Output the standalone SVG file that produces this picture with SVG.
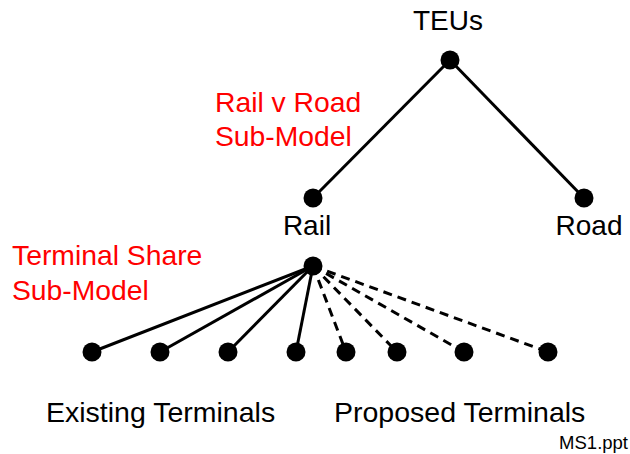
<svg xmlns="http://www.w3.org/2000/svg" width="630" height="454" viewBox="0 0 630 454">
  <style>
    text { font-family: "Liberation Sans", Arial, sans-serif; }
    .lbl { font-size: 28px; fill: #000; }
    .big { font-size: 28.5px; fill: #000; }
    .sub { font-size: 28.3px; fill: #ff0000; }
    .note { font-size: 18.5px; fill: #000; }
    .dot { fill: #000; }
    .edge { stroke: #000; stroke-width: 3; fill: none; }
    .dash { stroke-dasharray: 9 6; }
  </style>
  <rect width="630" height="454" fill="#fff"/>
  <g id="connectors">
    <line class="edge" x1="450" y1="60" x2="313" y2="198"/>
    <line class="edge" x1="450" y1="60" x2="584" y2="198"/>
    <line class="edge" x1="313" y1="266" x2="92" y2="352"/>
    <line class="edge" x1="313" y1="266" x2="160" y2="352"/>
    <line class="edge" x1="313" y1="266" x2="228" y2="352"/>
    <line class="edge" x1="313" y1="266" x2="296" y2="352"/>
    <line class="edge dash" x1="313" y1="266" x2="346" y2="352"/>
    <line class="edge dash" x1="313" y1="266" x2="397" y2="352"/>
    <line class="edge dash" x1="313" y1="266" x2="464" y2="352"/>
    <line class="edge dash" x1="313" y1="266" x2="548" y2="352"/>
  </g>
  <g id="teus"><circle class="dot" cx="450" cy="60" r="9.5"/><text class="lbl" x="448" y="30" text-anchor="middle">TEUs</text></g>
  <g id="rail"><circle class="dot" cx="313" cy="198" r="9.5"/><text class="lbl" x="307" y="235" text-anchor="middle">Rail</text></g>
  <g id="road"><circle class="dot" cx="584" cy="198" r="9.5"/><text class="lbl" x="589" y="235" text-anchor="middle">Road</text></g>
  <g id="rail-split"><circle class="dot" cx="313" cy="266" r="9.5"/></g>
  <g id="t1"><circle class="dot" cx="92" cy="352" r="9.5"/></g>
  <g id="t2"><circle class="dot" cx="160" cy="352" r="9.5"/></g>
  <g id="t3"><circle class="dot" cx="228" cy="352" r="9.5"/></g>
  <g id="t4"><circle class="dot" cx="296" cy="352" r="9.5"/></g>
  <g id="t5"><circle class="dot" cx="346" cy="352" r="9.5"/></g>
  <g id="t6"><circle class="dot" cx="397" cy="352" r="9.5"/></g>
  <g id="t7"><circle class="dot" cx="464" cy="352" r="9.5"/></g>
  <g id="t8"><circle class="dot" cx="548" cy="352" r="9.5"/></g>
  <g id="labels">
    <text class="sub" x="215" y="112">Rail v Road</text>
    <text class="sub" x="215" y="146">Sub-Model</text>
    <text class="sub" x="12" y="265">Terminal Share</text>
    <text class="sub" x="12" y="300">Sub-Model</text>
    <text class="big" x="46" y="422">Existing Terminals</text>
    <text class="big" x="334" y="422">Proposed Terminals</text>
    <text class="note" x="628" y="449" text-anchor="end">MS1.ppt</text>
  </g>
</svg>
